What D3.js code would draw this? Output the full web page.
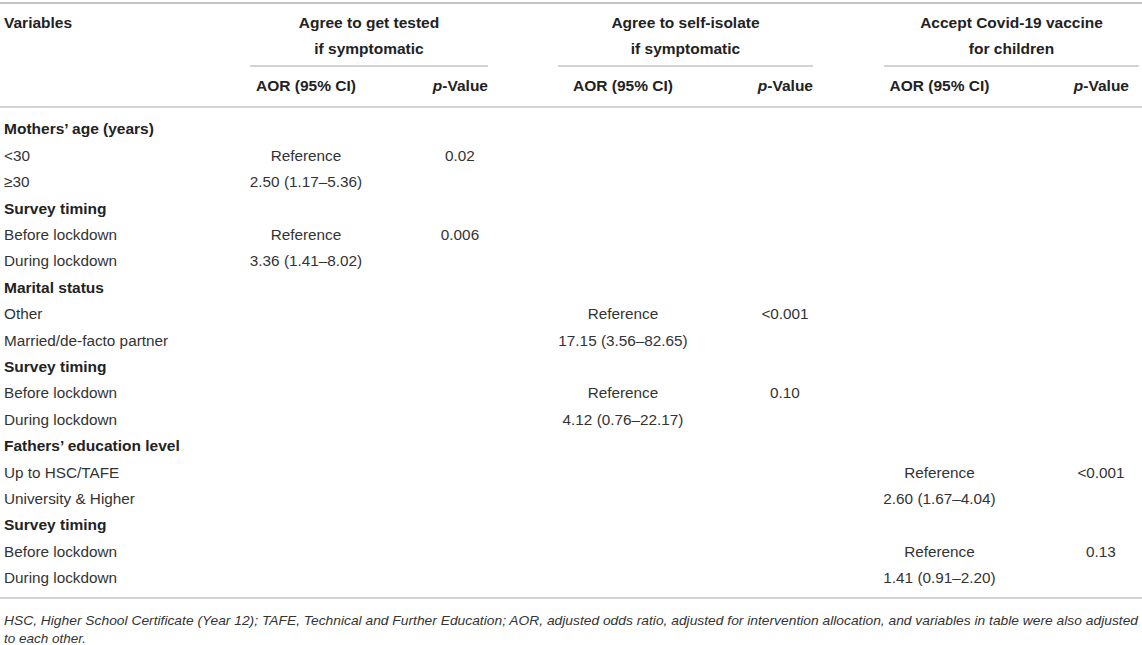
<!DOCTYPE html>
<html><head><meta charset="utf-8">
<script src="https://cdn.jsdelivr.net/npm/d3@7"></script>
<style>body{margin:0;background:#fff}svg{display:block}</style>
</head><body>
<svg id="c" width="1142" height="645"></svg>
<script>
// ---- data ----
const outcomeLine1 = ["Agree to get tested", "Agree to self-isolate", "Accept Covid-19 vaccine"];
const outcomeLine2 = ["if symptomatic", "if symptomatic", "for children"];
const rowLabels = ["Mothers’ age (years)", "<30", "≥30", "Survey timing", "Before lockdown", "During lockdown",
  "Marital status", "Other", "Married/de-facto partner", "Survey timing", "Before lockdown", "During lockdown",
  "Fathers’ education level", "Up to HSC/TAFE", "University & Higher", "Survey timing", "Before lockdown", "During lockdown"];
const rowIsHeading = [1,0,0,1,0,0,1,0,0,1,0,0,1,0,0,1,0,0];
const aorTested  = ["","Reference","2.50 (1.17–5.36)","","Reference","3.36 (1.41–8.02)","","","","","","","","","","","",""];
const pTested    = ["","0.02","","","0.006","","","","","","","","","","","","",""];
const aorIsolate = ["","","","","","","","Reference","17.15 (3.56–82.65)","","Reference","4.12 (0.76–22.17)","","","","","",""];
const pIsolate   = ["","","","","","","","<0.001","","","0.10","","","","","","",""];
const aorVaccine = ["","","","","","","","","","","","","","Reference","2.60 (1.67–4.04)","","Reference","1.41 (0.91–2.20)"];
const pVaccine   = ["","","","","","","","","","","","","","<0.001","","","0.13",""];
const footnote = ["HSC, Higher School Certificate (Year 12); TAFE, Technical and Further Education; AOR, adjusted odds ratio, adjusted for intervention allocation, and variables in table were also adjusted",
  "to each other."];

// ---- layout ----
const svg = d3.select("#c");
const W = 1142;
const FONT = "'Liberation Sans', Arial, Helvetica, sans-serif";
const lineCol = "#c4c4c4", textCol = "#222";
const groups = [
  {x0:250, x1:488, aorC:306, pEnd:488, pC:460, aor:aorTested, p:pTested},
  {x0:558, x1:813, aorC:623, pEnd:813, pC:785, aor:aorIsolate, p:pIsolate},
  {x0:884, x1:1139, aorC:939.5, pEnd:1129, pC:1101, aor:aorVaccine, p:pVaccine}
];
const y = d3.scalePoint().domain(d3.range(rowLabels.length)).range([129, 578]);
const dy = 5.3;
const REG = 15.3, BOLD = 15.5;

function hline(x0, x1, yy, w) {
  svg.append("line").attr("x1", x0).attr("x2", x1).attr("y1", yy).attr("y2", yy)
    .attr("stroke", lineCol).attr("stroke-width", w || 1.6);
}
hline(0, W, 3, 1.8);
hline(0, W, 107, 1.6);
hline(0, W, 598, 1.6);

const g = svg.append("g").attr("font-family", FONT).attr("fill", textCol);

// header
g.append("text").attr("x", 4).attr("y", 23 + dy).attr("font-size", BOLD).attr("font-weight", "bold").text("Variables");
groups.forEach((gr, i) => {
  const c = (gr.x0 + gr.x1) / 2;
  g.append("text").attr("x", c).attr("y", 23 + dy).attr("text-anchor", "middle")
    .attr("font-size", BOLD).attr("font-weight", "bold").text(outcomeLine1[i]);
  g.append("text").attr("x", c).attr("y", 49 + dy).attr("text-anchor", "middle")
    .attr("font-size", BOLD).attr("font-weight", "bold").text(outcomeLine2[i]);
  hline(gr.x0, gr.x1, 66, 1.6);
  g.append("text").attr("x", gr.aorC).attr("y", 86 + dy).attr("text-anchor", "middle")
    .attr("font-size", BOLD).attr("font-weight", "bold").text("AOR (95% CI)");
  const pt = g.append("text").attr("x", gr.pEnd).attr("y", 86 + dy).attr("text-anchor", "end")
    .attr("font-size", BOLD).attr("font-weight", "bold");
  pt.append("tspan").attr("font-style", "italic").text("p");
  pt.append("tspan").text("-Value");
});

// rows
rowLabels.forEach((lab, i) => {
  g.append("text").attr("x", 4).attr("y", y(i) + dy)
    .attr("font-size", rowIsHeading[i] ? BOLD : REG)
    .attr("font-weight", rowIsHeading[i] ? "bold" : "normal")
    .attr("fill", rowIsHeading[i] ? "#222" : "#333")
    .text(lab);
  groups.forEach(gr => {
    if (gr.aor[i]) g.append("text").attr("x", gr.aorC).attr("y", y(i) + dy).attr("text-anchor", "middle")
      .attr("font-size", REG).attr("fill", "#333").text(gr.aor[i]);
    if (gr.p[i]) g.append("text").attr("x", gr.pC).attr("y", y(i) + dy).attr("text-anchor", "middle")
      .attr("font-size", REG).attr("fill", "#333").text(gr.p[i]);
  });
});

// footnote
g.append("text").attr("x", 4).attr("y", 624.5).attr("font-size", 13.5).attr("font-style", "italic")
  .attr("fill", "#333").attr("textLength", 1134).attr("lengthAdjust", "spacingAndGlyphs").text(footnote[0]);
g.append("text").attr("x", 4).attr("y", 643).attr("font-size", 13.5).attr("font-style", "italic")
  .attr("fill", "#333").text(footnote[1]);
</script>
</body></html>
